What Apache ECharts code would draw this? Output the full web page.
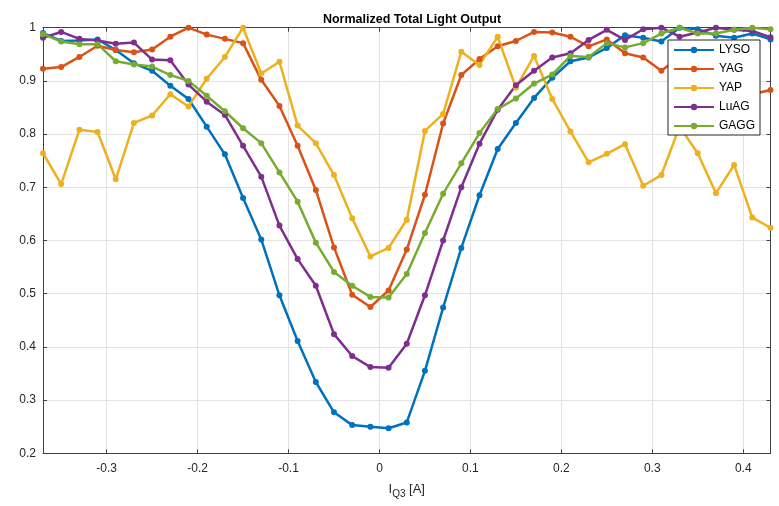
<!DOCTYPE html>
<html>
<head>
<meta charset="utf-8">
<script src="https://cdn.jsdelivr.net/npm/echarts@6/dist/echarts.min.js"></script>
<style>html,body{margin:0;padding:0;background:#fff;}#c{width:779px;height:506px;}</style>
</head>
<body>
<div id="c"></div>
<script>
var xValues = [-0.37,-0.35,-0.33,-0.31,-0.29,-0.27,-0.25,-0.23,-0.21,-0.19,-0.17,-0.15,-0.13,-0.11,-0.09,-0.07,-0.05,-0.03,-0.01,0.01,0.03,0.05,0.07,0.09,0.11,0.13,0.15,0.17,0.19,0.21,0.23,0.25,0.27,0.29,0.31,0.33,0.35,0.37,0.39,0.41,0.43];
var LYSO = [0.990,0.975,0.976,0.978,0.958,0.933,0.919,0.891,0.866,0.814,0.762,0.680,0.602,0.497,0.411,0.334,0.277,0.253,0.250,0.247,0.258,0.355,0.474,0.586,0.685,0.772,0.821,0.868,0.906,0.937,0.944,0.962,0.986,0.981,0.974,1.000,0.997,0.985,0.981,0.989,0.978];
var YAG = [0.923,0.926,0.945,0.966,0.958,0.954,0.959,0.983,1.000,0.987,0.979,0.971,0.902,0.853,0.778,0.695,0.587,0.498,0.475,0.506,0.583,0.686,0.820,0.911,0.941,0.965,0.975,0.992,0.991,0.983,0.965,0.978,0.952,0.944,0.919,0.945,0.925,0.910,0.890,0.875,0.883];
var YAP = [0.764,0.706,0.808,0.804,0.715,0.821,0.835,0.875,0.852,0.904,0.945,1.000,0.914,0.936,0.816,0.783,0.723,0.642,0.570,0.586,0.639,0.806,0.838,0.955,0.930,0.983,0.887,0.947,0.866,0.805,0.747,0.763,0.781,0.703,0.723,0.814,0.764,0.689,0.742,0.643,0.624];
var LuAG = [0.981,0.992,0.979,0.976,0.970,0.972,0.940,0.939,0.893,0.861,0.836,0.778,0.720,0.628,0.565,0.515,0.424,0.383,0.362,0.361,0.406,0.497,0.600,0.700,0.782,0.846,0.892,0.919,0.944,0.952,0.977,0.996,0.977,0.997,1.000,0.983,0.991,1.000,0.996,0.994,0.982];
var GAGG = [0.988,0.974,0.969,0.969,0.937,0.931,0.927,0.911,0.900,0.872,0.843,0.811,0.783,0.728,0.673,0.596,0.541,0.515,0.494,0.493,0.537,0.614,0.688,0.745,0.802,0.847,0.867,0.895,0.912,0.947,0.945,0.971,0.963,0.971,0.989,1.000,0.989,0.989,0.996,1.000,0.997];
var seriesNames = ['LYSO','YAG','YAP','LuAG','GAGG'];
var seriesColors = ['#0072BD','#D95319','#EDB120','#7E2F8E','#77AC30'];
var xTicks = [-0.3,-0.2,-0.1,0,0.1,0.2,0.3,0.4];
var titleText = 'Normalized Total Light Output';

var allSeries = [LYSO, YAG, YAP, LuAG, GAGG];
function pairs(arr){ return arr.map(function(v,i){ return [xValues[i], v]; }); }

var axisColor = '#404040';
var gridColor = '#e3e3e3';
var font = 'Liberation Sans, Arial, Helvetica, sans-serif';

var chart = echarts.init(document.getElementById('c'), null, {renderer:'canvas'});
var option = {
  animation: false,
  backgroundColor: '#fff',
  color: seriesColors,
  title: {
    text: titleText,
    left: 407, top: 8, textAlign: 'center',
    textStyle: {fontFamily: font, fontSize: 12.5, fontWeight: 'bold', color: '#000'}
  },
  legend: {
    orient: 'vertical', right: 19, top: 40,
    padding: [4, 5, 3, 5], itemGap: 7, itemWidth: 40, itemHeight: 8,
    backgroundColor: '#fff', borderColor: '#262626', borderWidth: 1, borderRadius: 0,
    textStyle: {fontFamily: font, fontSize: 12, color: '#000'},
    data: seriesNames
  },
  grid: {left: 43, right: 8.5, top: 27.7, bottom: 52.7, containLabel: false},
  xAxis: [{
    type: 'value', min: -0.37, max: 0.43, position: 'bottom',
    axisLine: {show: true, onZero: false, lineStyle: {color: axisColor, width: 1}},
    axisTick: {show: true, inside: true, length: 4, customValues: xTicks, lineStyle: {color: axisColor}},
    axisLabel: {customValues: xTicks, margin: 9, fontFamily: font, fontSize: 12, color: '#262626',
      formatter: function(v){ return v === 0 ? '0' : String(Math.round(v*10)/10); }},
    splitLine: {show: true, lineStyle: {color: gridColor, width: 1}},
    name: '{a|I}{b|Q3}{a| [A]}', nameLocation: 'middle', nameGap: 27,
    nameTextStyle: {rich: {
      a: {fontFamily: font, fontSize: 13, color: '#262626'},
      b: {fontFamily: font, fontSize: 10, color: '#262626', padding: [9,0,0,0]}
    }}
  },{
    type: 'value', min: -0.37, max: 0.43, position: 'top',
    axisLine: {show: true, onZero: false, lineStyle: {color: axisColor, width: 1}},
    axisTick: {show: true, inside: true, length: 4, customValues: xTicks, lineStyle: {color: axisColor}},
    axisLabel: {show: false, customValues: xTicks},
    splitLine: {show: false}
  }],
  yAxis: [{
    type: 'value', min: 0.2, max: 1, interval: 0.1, position: 'left',
    axisLine: {show: true, onZero: false, lineStyle: {color: axisColor, width: 1}},
    axisTick: {show: true, inside: true, length: 4, lineStyle: {color: axisColor}},
    axisLabel: {margin: 7, fontFamily: font, fontSize: 12, color: '#262626',
      formatter: function(v){ return String(Math.round(v*10)/10); }},
    splitLine: {show: true, lineStyle: {color: gridColor, width: 1}}
  },{
    type: 'value', min: 0.2, max: 1, interval: 0.1, position: 'right',
    axisLine: {show: true, onZero: false, lineStyle: {color: axisColor, width: 1}},
    axisTick: {show: true, inside: true, length: 4, lineStyle: {color: axisColor}},
    axisLabel: {show: false},
    splitLine: {show: false}
  }],
  series: allSeries.map(function(arr, i){
    return {
      name: seriesNames[i], type: 'line', xAxisIndex: 0, yAxisIndex: 0,
      data: pairs(arr), symbol: 'circle', symbolSize: 6, showSymbol: true,
      lineStyle: {width: 2.5, color: seriesColors[i]},
      itemStyle: {color: seriesColors[i]},
      emphasis: {disabled: true}
    };
  })
};
chart.setOption(option);
</script>
</body>
</html>
